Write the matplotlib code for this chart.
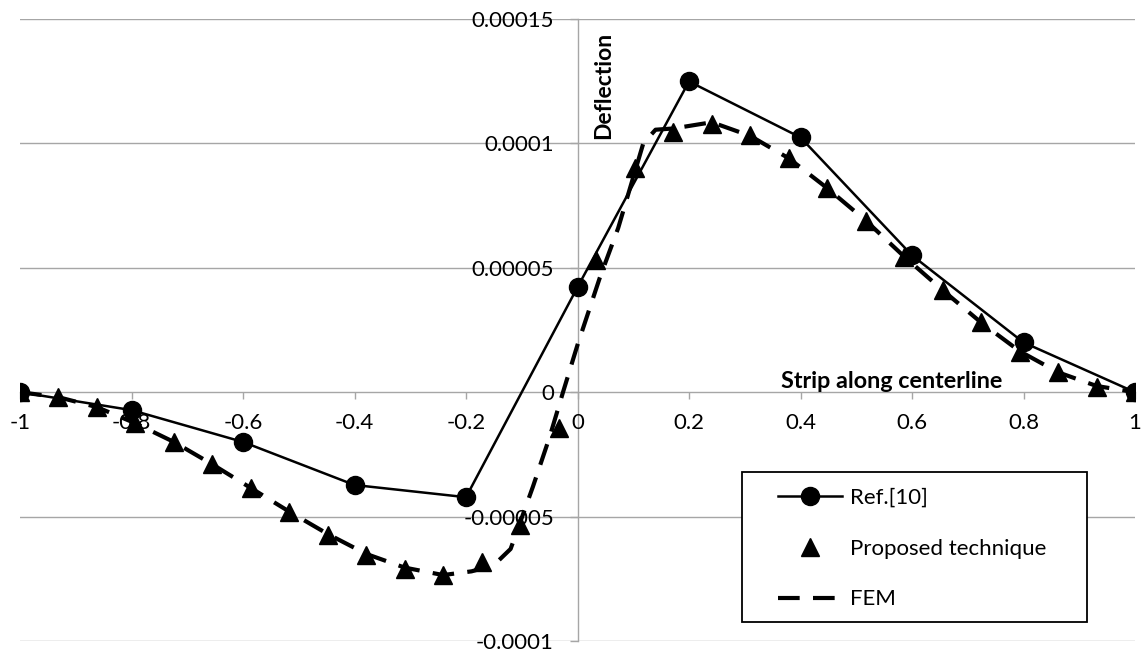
import matplotlib
matplotlib.use("Agg")
import matplotlib.pyplot as plt
from matplotlib.patches import Rectangle

plt.rcParams['font.family'] = ['Lato', 'DejaVu Sans']

# Ref.[10] (circles, solid line)
x_ref = [-1.0, -0.8, -0.6, -0.4, -0.2, 0.0, 0.2, 0.4, 0.6, 0.8, 1.0]
y_ref = [0.0, -0.72e-5, -2.0e-5, -3.73e-5, -4.22e-5, 4.22e-5, 12.49e-5, 10.24e-5, 5.5e-5, 2.0e-5, 0.0]

# Proposed technique (triangles only)
x_prop = [-1.0, -0.931, -0.862, -0.793, -0.724, -0.655, -0.586, -0.517, -0.448, -0.379,
          -0.31, -0.241, -0.172, -0.103, -0.034, 0.034, 0.103, 0.172, 0.241, 0.31,
          0.379, 0.448, 0.517, 0.586, 0.655, 0.724, 0.793, 0.862, 0.931, 1.0]
y_prop = [0.0, -0.2e-5, -0.6e-5, -1.25e-5, -2.0e-5, -2.9e-5, -3.85e-5, -4.82e-5, -5.74e-5, -6.55e-5,
          -7.1e-5, -7.35e-5, -6.83e-5, -5.34e-5, -1.45e-5, 5.3e-5, 9.0e-5, 10.44e-5, 10.76e-5, 10.32e-5,
          9.4e-5, 8.2e-5, 6.9e-5, 5.42e-5, 4.1e-5, 2.81e-5, 1.6e-5, 0.8e-5, 0.2e-5, 0.0]

# FEM (dashed line)
x_fem = [-1.0, -0.931, -0.862, -0.793, -0.724, -0.655, -0.586, -0.517, -0.448, -0.379,
         -0.31, -0.241, -0.19, -0.15, -0.12, -0.08, -0.05, -0.026, 0.0, 0.04,
         0.073, 0.118, 0.14, 0.172, 0.241, 0.31, 0.379, 0.448, 0.517, 0.586,
         0.655, 0.724, 0.793, 0.862, 0.931, 1.0]
y_fem = [0.0, -0.2e-5, -0.6e-5, -1.25e-5, -2.0e-5, -2.9e-5, -3.85e-5, -4.8e-5, -5.7e-5, -6.5e-5,
         -7.05e-5, -7.35e-5, -7.2e-5, -6.95e-5, -6.3e-5, -3.8e-5, -1.8e-5, 0.0, 1.9e-5, 4.6e-5,
         6.6e-5, 10.0e-5, 10.55e-5, 10.6e-5, 10.85e-5, 10.3e-5, 9.4e-5, 8.2e-5, 6.9e-5, 5.45e-5,
         4.1e-5, 2.8e-5, 1.65e-5, 0.8e-5, 0.25e-5, 0.0]

x_ticks = [-1, -0.8, -0.6, -0.4, -0.2, 0, 0.2, 0.4, 0.6, 0.8, 1]
x_labels = ["-1", "-0.8", "-0.6", "-0.4", "-0.2", "0", "0.2", "0.4", "0.6", "0.8", "1"]
y_ticks = [-0.0001, -0.00005, 0, 0.00005, 0.0001, 0.00015]
y_labels = ["-0.0001", "-0.00005", "0", "0.00005", "0.0001", "0.00015"]

W, H = 1148, 652
fig = plt.figure(figsize=(W / 100, H / 100), dpi=100)
ax = fig.add_axes([20 / W, 1 - 641 / H, (1135 - 20) / W, (641 - 19) / H])

grid_col = "#a6a6a6"
fs = 16

ax.set_xlim(-1, 1)
ax.set_ylim(-0.0001, 0.00015)
for yv in y_ticks:
    if yv != 0:
        ax.axhline(yv, color=grid_col, lw=1.0, zorder=0)

for s in ['top', 'right']:
    ax.spines[s].set_visible(False)
ax.spines['left'].set_position(('data', 0))
ax.spines['bottom'].set_position(('data', 0))
for s in ['left', 'bottom']:
    ax.spines[s].set_color(grid_col)
    ax.spines[s].set_linewidth(1.0)
    ax.spines[s].set_zorder(0.5)

ax.set_xticks(x_ticks)
ax.set_xticklabels(x_labels)
ax.set_yticks(y_ticks)
ax.set_yticklabels(y_labels)
ax.tick_params(axis='x', direction='out', length=5, width=1.0, color=grid_col,
               labelsize=fs, pad=10)
ax.tick_params(axis='y', direction='out', length=6, width=1.0, color=grid_col,
               labelsize=fs, pad=11)

ax.plot(x_ref, y_ref, color='black', lw=1.8, marker='o', markersize=13,
        label="Ref.[10]", zorder=3)
ax.plot(x_prop, y_prop, linestyle='none', color='black', marker='^', markersize=13,
        label="Proposed technique", zorder=4)
ax.plot(x_fem, y_fem, color='black', lw=3.0, dashes=(5.2, 3.2),
        label="FEM", zorder=3)

ax.text(0.046, 0.0001448, "Deflection", rotation=90, ha='center', va='top',
        fontsize=16.5, fontweight='bold')
ax.text(0.762, 0.0000016, "Strip along centerline", ha='right', va='baseline',
        fontsize=16.8, fontweight='bold')

# legend box drawn separately so the padding matches the original
box = Rectangle((742 / W, 1 - 622 / H), (1087 - 742) / W, (622 - 472) / H,
                transform=fig.transFigure, facecolor='white', edgecolor='black',
                lw=1.3, zorder=9, clip_on=False)
ax.add_patch(box)
leg = ax.legend(loc='upper left', bbox_to_anchor=(778 / W, 1 - 488 / H),
                bbox_transform=fig.transFigure, fontsize=fs, frameon=False,
                borderpad=0, handlelength=2.9, handletextpad=0.35,
                labelspacing=1.38, borderaxespad=0)
leg.set_zorder(10)

fig.savefig("out.png", dpi=100)
